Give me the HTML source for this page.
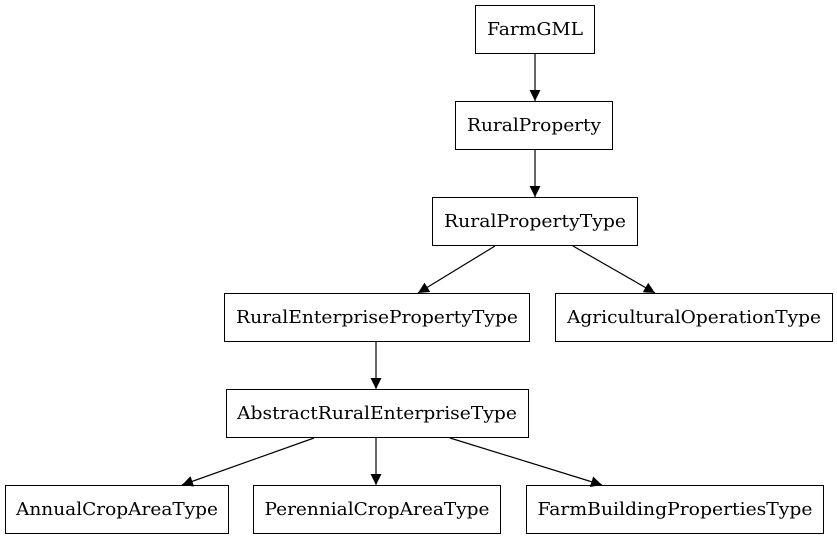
<!DOCTYPE html>
<html><head><meta charset="utf-8"><style>body{margin:0;background:#fff}svg{display:block}text{font-family:"DejaVu Serif","Liberation Serif",serif;font-size:18px;fill:#000}</style></head><body>
<svg width="837" height="539" viewBox="0 0 837 539" xmlns="http://www.w3.org/2000/svg">
<defs><marker id="a" markerWidth="12" markerHeight="12" refX="11" refY="5.5" orient="auto" markerUnits="userSpaceOnUse"><path d="M0,0 L11,5.5 L0,11 z" fill="#000"/></marker></defs>
<g fill="#fff" stroke="#000" stroke-width="1">
<rect x="475.5" y="5.5" width="119" height="48"/>
<rect x="455.5" y="101.5" width="157" height="48"/>
<rect x="432.5" y="197.5" width="205" height="48"/>
<rect x="224.5" y="293.5" width="305" height="48"/>
<rect x="555.5" y="293.5" width="277" height="48"/>
<rect x="226.5" y="389.5" width="302" height="48"/>
<rect x="5.5" y="485.5" width="223" height="48"/>
<rect x="253.5" y="485.5" width="247" height="48"/>
<rect x="526.5" y="485.5" width="297" height="48"/>
</g>
<g stroke="#000" stroke-width="1.2" fill="none" marker-end="url(#a)">
<line x1="535" y1="54" x2="535" y2="101"/>
<line x1="535" y1="150" x2="535" y2="197"/>
<line x1="495" y1="246" x2="418" y2="293"/>
<line x1="573" y1="246" x2="655" y2="293"/>
<line x1="376" y1="342" x2="376" y2="389"/>
<line x1="314" y1="438" x2="182" y2="485"/>
<line x1="376" y1="438" x2="376" y2="485"/>
<line x1="450" y1="438" x2="602" y2="485"/>
</g>
<g text-anchor="middle">
<text x="535" y="35" textLength="96" lengthAdjust="spacingAndGlyphs">FarmGML</text>
<text x="534" y="131" textLength="134" lengthAdjust="spacingAndGlyphs">RuralProperty</text>
<text x="535" y="227" textLength="182" lengthAdjust="spacingAndGlyphs">RuralPropertyType</text>
<text x="377" y="323" textLength="282" lengthAdjust="spacingAndGlyphs">RuralEnterprisePropertyType</text>
<text x="694" y="323" textLength="254" lengthAdjust="spacingAndGlyphs">AgriculturalOperationType</text>
<text x="377" y="419" textLength="280" lengthAdjust="spacingAndGlyphs">AbstractRuralEnterpriseType</text>
<text x="117" y="515" textLength="202" lengthAdjust="spacingAndGlyphs">AnnualCropAreaType</text>
<text x="377" y="515" textLength="225" lengthAdjust="spacingAndGlyphs">PerennialCropAreaType</text>
<text x="675" y="515" textLength="275" lengthAdjust="spacingAndGlyphs">FarmBuildingPropertiesType</text>
</g>
</svg>
</body></html>
